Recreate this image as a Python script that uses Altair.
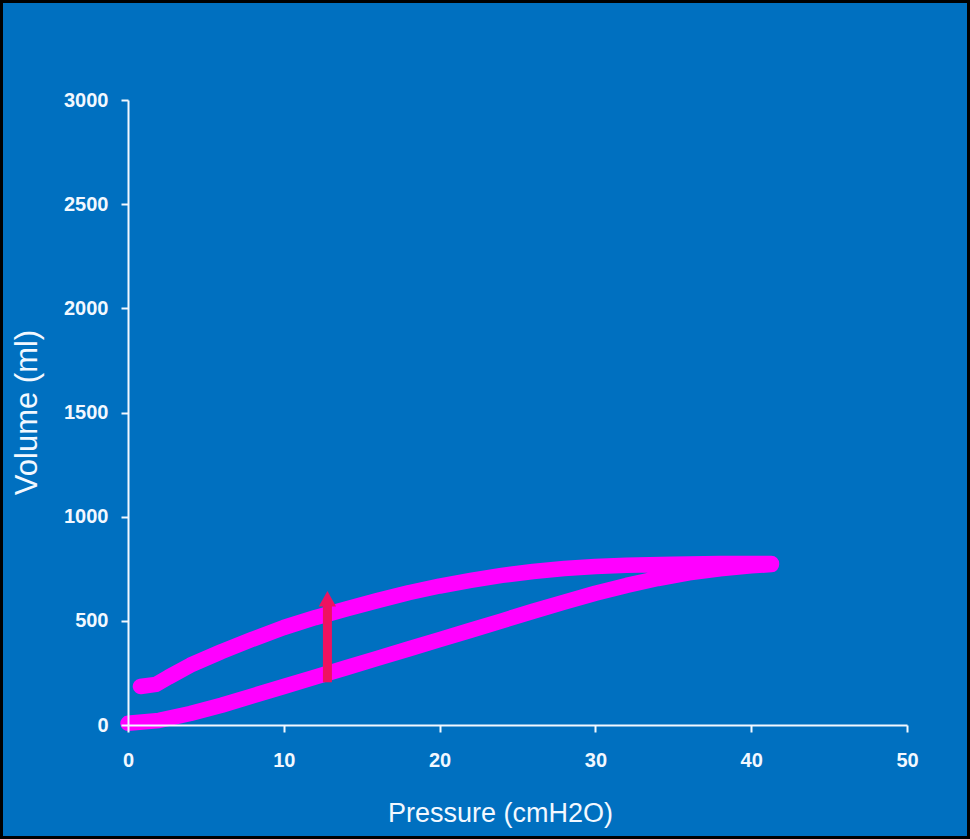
import altair as alt
import pandas as pd

# Inspiration limb (lower curve), pressure in cmH2O / volume in ml
insp_p = [0, 2, 4, 6, 8, 10, 12, 14, 16, 18, 20, 22, 24, 26, 28, 30, 32, 34, 36, 38, 40, 41.3]
insp_v = [8, 22, 55, 95, 140, 185, 230, 275, 320, 365, 410, 455, 500, 546, 590, 632, 670, 703, 730, 750, 764, 770]

# Expiration limb (upper curve), from peak pressure back to baseline
exp_p = [41.3, 38, 35, 32, 30, 28, 26, 24, 22, 20, 18, 16, 14, 12, 10, 8, 6, 4, 2.6, 1.8, 0.8]
exp_v = [775, 775, 772, 767, 761, 751, 737, 718, 694, 667, 635, 597, 557, 515, 468, 412, 352, 287, 230, 195, 185]

# Arrow marking the hysteresis gap
arrow_p = [12.8]
arrow_v0 = [205]
arrow_v1 = [592]
arrow_tip = [602]

BLUE = "#0070c0"
MAGENTA = "#ff00ff"
RED = "#ee1260"
WHITE = "#f2f8ff"
FONT = "Liberation Sans"

W, H = 779, 625

loop = pd.DataFrame({
    "p": insp_p + exp_p,
    "v": insp_v + exp_v,
    "o": list(range(len(insp_p) + len(exp_p))),
})
arrow = pd.DataFrame({"p": arrow_p, "v0": arrow_v0, "v1": arrow_v1, "tip": arrow_tip})

x_scale = alt.Scale(domain=[0, 50], nice=False)
y_scale = alt.Scale(domain=[0, 3000], nice=False)

frame = alt.Chart(pd.DataFrame({"a": [0]})).mark_rect(
    fill=BLUE, stroke="#000000", strokeWidth=3
).encode(
    x=alt.value(-126.5), x2=alt.value(W + 61.5),
    y=alt.value(-98.5), y2=alt.value(H + 112.5),
)

line = alt.Chart(loop).mark_line(
    color=MAGENTA, strokeWidth=15.5, strokeCap="round", strokeJoin="round",
    interpolate="linear"
).encode(
    x=alt.X("p:Q", scale=x_scale, axis=alt.Axis(
        values=[0, 10, 20, 30, 40, 50], title="Pressure (cmH2O)", format="d",
        titleX=372, titleY=88, titleBaseline="middle", titleAlign="center",
        titleFontSize=27, labelPadding=18, labelFlush=False, zindex=1)),
    y=alt.Y("v:Q", scale=y_scale, axis=alt.Axis(
        values=[0, 500, 1000, 1500, 2000, 2500, 3000], title="Volume (ml)",
        format="d", titleX=-101, titleY=312, titleAngle=270,
        titleBaseline="middle", titleAlign="center", titleFontSize=31,
        labelPadding=13, zindex=1)),
    order="o:Q",
)

shaft = alt.Chart(arrow).mark_rule(color=RED, strokeWidth=9).encode(
    x="p:Q", y="v0:Q", y2="v1:Q"
)

head = alt.Chart(arrow).mark_point(
    shape="M0,-1L1,0.8L-1,0.8Z", filled=True, color=RED, opacity=1, size=300
).encode(x="p:Q", y="tip:Q")

chart = alt.layer(frame, line, shaft, head).properties(
    width=W, height=H,
    background=BLUE,
    padding={"left": 128, "top": 100, "right": 63, "bottom": 114},
    autosize=alt.AutoSizeParams(type="none"),
).configure_view(
    stroke=None
).configure_axis(
    domainColor=WHITE, domainWidth=2, tickColor=WHITE, tickWidth=2, tickSize=7,
    labelColor=WHITE, labelFont=FONT, labelFontSize=20, labelFontWeight="bold",
    titleColor=WHITE, titleFont=FONT, titleFontWeight="normal",
    grid=False,
)

chart.save("out.html", embed_options={"renderer": "svg", "actions": False})
